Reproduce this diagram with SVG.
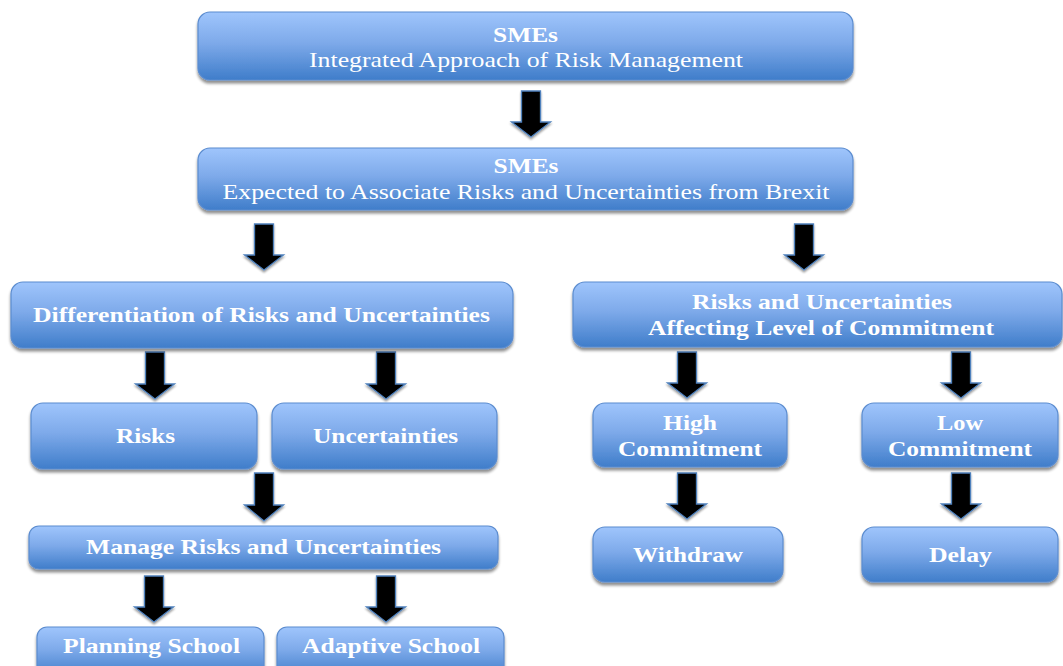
<svg xmlns="http://www.w3.org/2000/svg" width="1063" height="666" viewBox="0 0 1063 666">
<defs>
<linearGradient id="g" x1="0" y1="0" x2="0" y2="1">
<stop offset="0" stop-color="#9fc5fc"/>
<stop offset="0.45" stop-color="#7eaaea"/>
<stop offset="1" stop-color="#3f7dca"/>
</linearGradient>
<filter id="sh" x="-5%" y="-20%" width="110%" height="150%">
<feGaussianBlur in="SourceAlpha" stdDeviation="1.8"/>
<feOffset dx="0" dy="2.5" result="b"/>
<feComponentTransfer><feFuncA type="linear" slope="0.45"/></feComponentTransfer>
<feMerge><feMergeNode/><feMergeNode in="SourceGraphic"/></feMerge>
</filter>
<filter id="ash" x="-40%" y="-20%" width="180%" height="150%">
<feGaussianBlur in="SourceAlpha" stdDeviation="1.2"/>
<feOffset dx="0" dy="1.5" result="b"/>
<feComponentTransfer><feFuncA type="linear" slope="0.4"/></feComponentTransfer>
<feMerge><feMergeNode/><feMergeNode in="SourceGraphic"/></feMerge>
</filter>
</defs>
<style>
.box{fill:url(#g);stroke:#5b8ccf;stroke-width:1.2;filter:url(#sh)}
.t{font-family:"Liberation Serif","Times New Roman",serif;font-size:22px;fill:#ffffff;text-anchor:middle}
.b{font-weight:bold}
.arr{fill:#000000;stroke:#4f81bd;stroke-width:1.3;stroke-linejoin:miter;filter:url(#ash)}
</style>
<rect width="1063" height="666" fill="#ffffff"/>
<g id="connectors">
<path class="arr" d="M521.5,91 H540.5 V122 H550.5 L531,137 L511.5,122 H521.5 Z"/>
<path class="arr" d="M254.5,224 H273.5 V255 H283.5 L264,270 L244.5,255 H254.5 Z"/>
<path class="arr" d="M794.5,224 H813.5 V255 H823.5 L804,270 L784.5,255 H794.5 Z"/>
<path class="arr" d="M145.5,352 H164.5 V384 H174.5 L155,399 L135.5,384 H145.5 Z"/>
<path class="arr" d="M376.5,352 H395.5 V384 H405.5 L386,399 L366.5,384 H376.5 Z"/>
<path class="arr" d="M677.5,352 H696.5 V383 H706.5 L687,398 L667.5,383 H677.5 Z"/>
<path class="arr" d="M951.5,352 H970.5 V383 H980.5 L961,398 L941.5,383 H951.5 Z"/>
<path class="arr" d="M254.5,473 H273.5 V505 H283.5 L264,521 L244.5,505 H254.5 Z"/>
<path class="arr" d="M144.5,576 H163.5 V607 H173.5 L154,622 L134.5,607 H144.5 Z"/>
<path class="arr" d="M376.5,576 H395.5 V607 H405.5 L386,622 L366.5,607 H376.5 Z"/>
<path class="arr" d="M677.5,473 H696.5 V504 H706.5 L687,519 L667.5,504 H677.5 Z"/>
<path class="arr" d="M951.5,473 H970.5 V504 H980.5 L961,519 L941.5,504 H951.5 Z"/>
</g>
<g id="n-top">
<rect class="box" x="198" y="12" width="655" height="68" rx="12"/>
<text class="t b" x="525.5" y="42" textLength="65" lengthAdjust="spacingAndGlyphs">SMEs</text>
<text class="t" x="526" y="67" textLength="434" lengthAdjust="spacingAndGlyphs">Integrated Approach of Risk Management</text>
</g>
<g id="n-expected">
<rect class="box" x="198" y="148" width="655" height="62" rx="12"/>
<text class="t b" x="526" y="173" textLength="65" lengthAdjust="spacingAndGlyphs">SMEs</text>
<text class="t" x="526" y="199" textLength="607" lengthAdjust="spacingAndGlyphs">Expected to Associate Risks and Uncertainties from Brexit</text>
</g>
<g id="n-diff">
<rect class="box" x="11" y="282" width="502" height="66" rx="12"/>
<text class="t b" x="261.5" y="322" textLength="457" lengthAdjust="spacingAndGlyphs">Differentiation of Risks and Uncertainties</text>
</g>
<g id="n-affect">
<rect class="box" x="573" y="282" width="489" height="65" rx="12"/>
<text class="t b" x="822" y="309" textLength="260" lengthAdjust="spacingAndGlyphs">Risks and Uncertainties</text>
<text class="t b" x="821" y="335" textLength="346" lengthAdjust="spacingAndGlyphs">Affecting Level of Commitment</text>
</g>
<g id="n-risks">
<rect class="box" x="31" y="403" width="226" height="66" rx="12"/>
<text class="t b" x="145.5" y="443" textLength="59" lengthAdjust="spacingAndGlyphs">Risks</text>
</g>
<g id="n-uncert">
<rect class="box" x="272" y="403" width="225" height="66" rx="12"/>
<text class="t b" x="385.5" y="443" textLength="145" lengthAdjust="spacingAndGlyphs">Uncertainties</text>
</g>
<g id="n-high">
<rect class="box" x="593" y="403" width="194" height="64" rx="12"/>
<text class="t b" x="690" y="430" textLength="54" lengthAdjust="spacingAndGlyphs">High</text>
<text class="t b" x="690" y="456" textLength="144" lengthAdjust="spacingAndGlyphs">Commitment</text>
</g>
<g id="n-low">
<rect class="box" x="862" y="403" width="196" height="64" rx="12"/>
<text class="t b" x="960" y="430" textLength="46" lengthAdjust="spacingAndGlyphs">Low</text>
<text class="t b" x="960" y="456" textLength="144" lengthAdjust="spacingAndGlyphs">Commitment</text>
</g>
<g id="n-manage">
<rect class="box" x="29" y="526" width="469" height="43" rx="10"/>
<text class="t b" x="263.5" y="554" textLength="355" lengthAdjust="spacingAndGlyphs">Manage Risks and Uncertainties</text>
</g>
<g id="n-withdraw">
<rect class="box" x="593" y="527" width="190" height="55" rx="12"/>
<text class="t b" x="688" y="562" textLength="110" lengthAdjust="spacingAndGlyphs">Withdraw</text>
</g>
<g id="n-delay">
<rect class="box" x="862" y="527" width="196" height="55" rx="12"/>
<text class="t b" x="960.5" y="562" textLength="63" lengthAdjust="spacingAndGlyphs">Delay</text>
</g>
<g id="n-planning">
<rect class="box" x="37" y="627" width="227" height="50" rx="10"/>
<text class="t b" x="151.5" y="653" textLength="177" lengthAdjust="spacingAndGlyphs">Planning School</text>
</g>
<g id="n-adaptive">
<rect class="box" x="277" y="627" width="227" height="50" rx="10"/>
<text class="t b" x="391" y="653" textLength="178" lengthAdjust="spacingAndGlyphs">Adaptive School</text>
</g>
</svg>
